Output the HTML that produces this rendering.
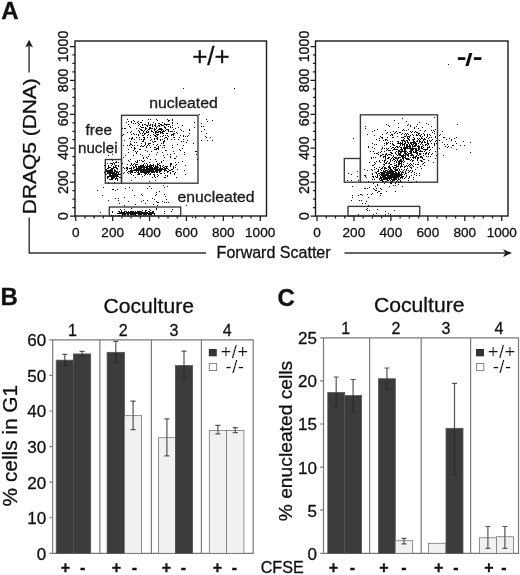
<!DOCTYPE html>
<html><head><meta charset="utf-8"><title>Figure</title><style>html,body{margin:0;padding:0;background:#fff}svg{display:block}</style></head><body>
<svg width="520" height="575" viewBox="0 0 520 575" font-family="'Liberation Sans', sans-serif" fill="#111"><style>text{stroke:#111;stroke-width:.3px}</style>
<rect width="520" height="575" fill="#fff"/>
<g font-weight="bold" font-size="24px"><text x="1.3" y="19.2">A</text><text x="0.5" y="305.2">B</text><text x="277.6" y="305.5">C</text></g>
<rect x="75" y="41" width="191.5" height="175" fill="none" stroke="#1a1a1a" stroke-width="1.4"/>
<path d="M75 216.00h-5M75 207.53h-2.6M75 199.05h-2.6M75 190.57h-2.6M75 182.10h-5M75 173.62h-2.6M75 165.15h-2.6M75 156.68h-2.6M75 148.20h-5M75 139.73h-2.6M75 131.25h-2.6M75 122.78h-2.6M75 114.30h-5M75 105.83h-2.6M75 97.35h-2.6M75 88.88h-2.6M75 80.40h-5M75 71.93h-2.6M75 63.45h-2.6M75 54.97h-2.6M75 46.50h-5M75.75 216v5M84.97 216v2.6M94.20 216v2.6M103.42 216v2.6M112.65 216v5M121.88 216v2.6M131.10 216v2.6M140.32 216v2.6M149.55 216v5M158.77 216v2.6M168.00 216v2.6M177.22 216v2.6M186.45 216v5M195.68 216v2.6M204.90 216v2.6M214.12 216v2.6M223.35 216v5M232.57 216v2.6M241.80 216v2.6M251.03 216v2.6M260.25 216v5" stroke="#1a1a1a" stroke-width="1.25" fill="none"/>
<g font-size="13.6px" text-anchor="middle">
<text x="75.8" y="236.7">0</text>
<text transform="translate(68,216.0) rotate(-90)" font-size="14.2px">0</text>
<text x="112.7" y="236.7">200</text>
<text transform="translate(68,182.1) rotate(-90)" font-size="14.2px">200</text>
<text x="149.6" y="236.7">400</text>
<text transform="translate(68,148.2) rotate(-90)" font-size="14.2px">400</text>
<text x="186.4" y="236.7">600</text>
<text transform="translate(68,114.3) rotate(-90)" font-size="14.2px">600</text>
<text x="223.3" y="236.7">800</text>
<text transform="translate(68,80.4) rotate(-90)" font-size="14.2px">800</text>
<text x="260.2" y="236.7">1000</text>
<text transform="translate(68,46.5) rotate(-90)" font-size="14.2px">1000</text>
</g>
<rect x="121.5" y="115.3" width="76.50" height="67.90" fill="none" stroke="#383838" stroke-width="1.35"/>
<rect x="105.3" y="159.5" width="16.20" height="23.70" fill="none" stroke="#383838" stroke-width="1.35"/>
<rect x="109.3" y="207" width="71.40" height="9.00" fill="none" stroke="#383838" stroke-width="1.35"/>
<path d="M112 174.5h1M112 171.5h1M110 172.5h1M116 174.5h1M116 173.5h1M114 173.5h1M108 176.5h1M114 174.5h1M108 166.5h1M110 171.5h1M114 172.5h1M114 170.5h1M111 179.5h1M114 177.5h1M111 170.5h1M112 172.5h1M115 173.5h1M111 169.5h1M111 177.5h1M110 173.5h1M114 167.5h1M113 178.5h1M107 171.5h1M112 169.5h1M115 176.5h1M117 174.5h1M113 167.5h1M111 168.5h1M110 170.5h1M116 165.5h1M108 173.5h1M117 175.5h1M107 163.5h1M109 176.5h1M113 174.5h1M114 175.5h1M108 177.5h1M115 175.5h1M107 170.5h1M115 165.5h1M112 176.5h1M109 179.5h1M113 177.5h1M111 171.5h1M110 176.5h1M117 171.5h1M109 172.5h1M117 168.5h1M116 168.5h1M110 175.5h1M116 176.5h1M113 175.5h1M119 174.5h1M113 176.5h1M118 162.5h1M109 173.5h1M111 175.5h1M120 174.5h1M111 172.5h1M105 171.5h1M115 178.5h1M108 171.5h1M112 175.5h1M116 162.5h1M116 167.5h1M115 167.5h1M112 173.5h1M112 178.5h1M116 171.5h1M121 168.5h1M115 171.5h1M108 167.5h1M114 169.5h1M110 167.5h1M116 175.5h1M117 169.5h1M113 168.5h1M115 179.5h1M110 179.5h1M116 172.5h1M107 178.5h1M112 170.5h1M116 178.5h1M117 172.5h1M111 176.5h1M113 173.5h1M106 171.5h1M107 176.5h1M117 179.5h1M107 168.5h1M107 177.5h1M111 173.5h1M118 173.5h1M114 176.5h1M112 168.5h1M108 170.5h1M115 170.5h1M110 169.5h1M108 172.5h1M109 174.5h1M106 174.5h1M111 165.5h1M106 169.5h1M114 171.5h1M115 174.5h1M114 164.5h1M118 166.5h1M114 182.5h1M118 172.5h1M113 172.5h1M120 177.5h1M115 162.5h1M118 174.5h1M117 180.5h1M109 170.5h1M119 177.5h1M109 167.5h1M118 176.5h1M110 174.5h1M106 170.5h1M109 171.5h1M112 164.5h1M115 166.5h1M104 172.5h1M108 155.5h1M108 182.5h1M111 163.5h1M109 175.5h1M121 178.5h1M118 165.5h1M112 177.5h1M112 179.5h1M112 189.5h1M119 171.5h1M113 189.5h1M111 178.5h1M107 173.5h1M117 176.5h1M108 168.5h1M113 162.5h1M111 159.5h1M112 163.5h1M112 160.5h1M117 178.5h1M116 161.5h1M104 165.5h1M110 163.5h1M116 177.5h1M121 180.5h1M108 165.5h1M107 172.5h1M112 154.5h1M105 173.5h1M114 163.5h1M113 166.5h1M145 169.5h1M155 169.5h1M139 166.5h1M143 167.5h1M135 169.5h1M142 169.5h1M153 168.5h1M173 168.5h1M159 169.5h1M159 163.5h1M139 169.5h1M154 174.5h1M151 172.5h1M155 171.5h1M153 166.5h1M160 166.5h1M150 174.5h1M160 169.5h1M138 169.5h1M153 170.5h1M139 173.5h1M165 169.5h1M150 168.5h1M163 167.5h1M154 168.5h1M139 170.5h1M162 169.5h1M140 171.5h1M146 170.5h1M164 171.5h1M141 174.5h1M147 171.5h1M140 169.5h1M128 173.5h1M162 166.5h1M130 165.5h1M160 168.5h1M146 168.5h1M146 166.5h1M147 165.5h1M152 168.5h1M137 169.5h1M142 172.5h1M142 167.5h1M137 168.5h1M150 170.5h1M153 174.5h1M141 169.5h1M149 170.5h1M144 170.5h1M148 171.5h1M126 167.5h1M147 166.5h1M136 170.5h1M140 170.5h1M155 170.5h1M153 169.5h1M131 169.5h1M146 171.5h1M137 170.5h1M167 168.5h1M149 168.5h1M164 170.5h1M157 167.5h1M147 169.5h1M127 172.5h1M157 165.5h1M155 168.5h1M152 170.5h1M131 168.5h1M136 166.5h1M134 170.5h1M166 170.5h1M141 167.5h1M150 169.5h1M133 168.5h1M141 170.5h1M146 169.5h1M143 171.5h1M162 168.5h1M156 167.5h1M164 168.5h1M135 164.5h1M141 171.5h1M144 167.5h1M152 165.5h1M156 168.5h1M150 167.5h1M150 173.5h1M139 174.5h1M149 171.5h1M133 164.5h1M154 171.5h1M154 175.5h1M149 169.5h1M157 170.5h1M165 166.5h1M143 161.5h1M157 174.5h1M147 168.5h1M145 171.5h1M134 172.5h1M152 167.5h1M159 170.5h1M130 173.5h1M151 171.5h1M130 171.5h1M151 169.5h1M147 164.5h1M142 170.5h1M146 172.5h1M143 170.5h1M160 167.5h1M173 167.5h1M135 170.5h1M153 165.5h1M155 165.5h1M139 168.5h1M148 168.5h1M153 172.5h1M147 170.5h1M161 169.5h1M133 175.5h1M171 164.5h1M158 170.5h1M144 166.5h1M135 166.5h1M144 168.5h1M146 167.5h1M160 173.5h1M138 168.5h1M152 169.5h1M127 169.5h1M160 165.5h1M156 169.5h1M161 168.5h1M157 168.5h1M155 167.5h1M146 173.5h1M134 167.5h1M147 172.5h1M143 168.5h1M157 169.5h1M151 166.5h1M136 171.5h1M156 172.5h1M137 174.5h1M171 163.5h1M171 169.5h1M129 171.5h1M128 171.5h1M132 165.5h1M160 171.5h1M138 171.5h1M157 163.5h1M175 167.5h1M143 169.5h1M149 167.5h1M136 169.5h1M143 164.5h1M161 170.5h1M136 167.5h1M140 167.5h1M133 170.5h1M149 165.5h1M144 169.5h1M145 165.5h1M170 163.5h1M158 175.5h1M153 164.5h1M156 170.5h1M147 167.5h1M154 169.5h1M161 173.5h1M137 164.5h1M157 171.5h1M127 167.5h1M174 173.5h1M139 167.5h1M135 172.5h1M151 167.5h1M127 164.5h1M133 167.5h1M138 167.5h1M124 168.5h1M149 172.5h1M141 168.5h1M164 173.5h1M163 169.5h1M164 167.5h1M147 174.5h1M160 170.5h1M165 170.5h1M152 172.5h1M144 171.5h1M169 170.5h1M151 165.5h1M168 169.5h1M148 170.5h1M138 172.5h1M140 165.5h1M145 167.5h1M136 168.5h1M150 166.5h1M145 172.5h1M148 169.5h1M146 163.5h1M154 167.5h1M149 174.5h1M131 163.5h1M126 170.5h1M131 170.5h1M168 171.5h1M167 172.5h1M141 166.5h1M141 165.5h1M157 164.5h1M167 171.5h1M170 166.5h1M159 165.5h1M133 166.5h1M142 171.5h1M143 172.5h1M156 166.5h1M158 169.5h1M130 170.5h1M137 172.5h1M140 168.5h1M149 162.5h1M152 171.5h1M145 174.5h1M145 170.5h1M143 166.5h1M159 171.5h1M138 170.5h1M151 168.5h1M158 167.5h1M130 172.5h1M129 168.5h1M159 172.5h1M138 166.5h1M153 171.5h1M149 166.5h1M156 171.5h1M150 171.5h1M151 170.5h1M165 168.5h1M170 172.5h1M166 168.5h1M131 171.5h1M142 166.5h1M132 171.5h1M131 167.5h1M150 165.5h1M157 166.5h1M141 172.5h1M136 164.5h1M154 172.5h1M157 172.5h1M159 168.5h1M130 168.5h1M124 172.5h1M170 173.5h1M148 173.5h1M131 172.5h1M154 176.5h1M166 167.5h1M155 177.5h1M167 175.5h1M132 170.5h1M155 180.5h1M138 174.5h1M161 161.5h1M172 169.5h1M148 172.5h1M132 172.5h1M143 165.5h1M175 165.5h1M175 172.5h1M170 165.5h1M167 176.5h1M184 170.5h1M152 177.5h1M170 164.5h1M165 177.5h1M131 164.5h1M135 161.5h1M156 161.5h1M157 176.5h1M127 168.5h1M123 173.5h1M134 169.5h1M123 167.5h1M177 169.5h1M136 162.5h1M140 172.5h1M137 160.5h1M131 180.5h1M135 177.5h1M126 168.5h1M155 166.5h1M144 172.5h1M144 175.5h1M134 163.5h1M172 171.5h1M163 165.5h1M167 166.5h1M137 162.5h1M166 166.5h1M135 165.5h1M144 163.5h1M142 165.5h1M155 159.5h1M161 162.5h1M145 173.5h1M144 173.5h1M129 161.5h1M164 169.5h1M122 163.5h1M176 177.5h1M174 174.5h1M148 166.5h1M173 171.5h1M144 160.5h1M149 181.5h1M170 170.5h1M142 176.5h1M164 177.5h1M138 173.5h1M165 175.5h1M140 166.5h1M131 174.5h1M173 166.5h1M185 174.5h1M142 161.5h1M148 134.5h1M183 131.5h1M147 125.5h1M131 131.5h1M142 133.5h1M133 120.5h1M161 125.5h1M168 130.5h1M141 130.5h1M169 120.5h1M183 135.5h1M168 120.5h1M147 126.5h1M172 123.5h1M154 130.5h1M133 123.5h1M164 138.5h1M166 129.5h1M141 122.5h1M148 129.5h1M156 138.5h1M161 124.5h1M179 137.5h1M158 125.5h1M131 121.5h1M170 126.5h1M139 128.5h1M160 133.5h1M166 137.5h1M145 133.5h1M143 131.5h1M160 131.5h1M171 131.5h1M173 135.5h1M159 126.5h1M146 125.5h1M154 129.5h1M168 126.5h1M160 124.5h1M180 129.5h1M172 119.5h1M157 130.5h1M160 132.5h1M161 130.5h1M131 122.5h1M124 128.5h1M161 128.5h1M183 141.5h1M156 136.5h1M150 124.5h1M149 129.5h1M158 131.5h1M157 134.5h1M182 125.5h1M159 128.5h1M162 122.5h1M164 131.5h1M152 124.5h1M137 122.5h1M167 133.5h1M157 132.5h1M149 128.5h1M158 132.5h1M156 128.5h1M155 125.5h1M188 135.5h1M163 142.5h1M177 123.5h1M167 135.5h1M183 139.5h1M168 124.5h1M145 129.5h1M164 124.5h1M152 126.5h1M153 122.5h1M174 139.5h1M156 134.5h1M163 133.5h1M164 126.5h1M165 135.5h1M144 138.5h1M186 142.5h1M185 136.5h1M152 125.5h1M146 128.5h1M129 138.5h1M189 133.5h1M166 133.5h1M155 124.5h1M159 129.5h1M158 129.5h1M165 124.5h1M163 135.5h1M165 128.5h1M150 127.5h1M167 138.5h1M162 131.5h1M144 124.5h1M156 132.5h1M140 122.5h1M164 123.5h1M159 131.5h1M155 123.5h1M156 127.5h1M162 125.5h1M172 122.5h1M155 129.5h1M170 127.5h1M165 127.5h1M167 139.5h1M151 131.5h1M144 133.5h1M174 131.5h1M141 129.5h1M173 137.5h1M168 121.5h1M147 135.5h1M140 133.5h1M183 136.5h1M173 129.5h1M140 126.5h1M154 128.5h1M167 129.5h1M157 139.5h1M163 130.5h1M154 125.5h1M176 132.5h1M142 124.5h1M155 126.5h1M172 125.5h1M141 127.5h1M156 131.5h1M151 130.5h1M134 121.5h1M168 136.5h1M157 126.5h1M172 120.5h1M146 131.5h1M166 125.5h1M131 134.5h1M159 125.5h1M158 134.5h1M167 119.5h1M173 133.5h1M189 130.5h1M157 135.5h1M148 124.5h1M152 128.5h1M142 130.5h1M165 130.5h1M181 130.5h1M175 128.5h1M160 128.5h1M150 125.5h1M126 122.5h1M149 125.5h1M142 127.5h1M168 129.5h1M150 135.5h1M171 135.5h1M155 135.5h1M149 127.5h1M162 132.5h1M153 134.5h1M155 133.5h1M172 134.5h1M167 124.5h1M139 124.5h1M140 129.5h1M145 124.5h1M153 132.5h1M160 136.5h1M143 132.5h1M170 131.5h1M164 127.5h1M142 125.5h1M143 158.5h1M153 144.5h1M161 132.5h1M164 145.5h1M127 145.5h1M158 146.5h1M174 137.5h1M158 149.5h1M136 152.5h1M128 124.5h1M148 122.5h1M151 128.5h1M157 138.5h1M151 139.5h1M136 134.5h1M156 119.5h1M139 132.5h1M134 142.5h1M148 131.5h1M135 148.5h1M140 146.5h1M157 120.5h1M134 139.5h1M155 149.5h1M162 152.5h1M144 137.5h1M162 136.5h1M166 124.5h1M160 139.5h1M155 141.5h1M134 134.5h1M132 137.5h1M144 130.5h1M137 151.5h1M128 160.5h1M162 147.5h1M134 147.5h1M122 128.5h1M130 144.5h1M164 141.5h1M123 134.5h1M156 149.5h1M178 139.5h1M143 139.5h1M168 131.5h1M162 133.5h1M157 148.5h1M132 138.5h1M154 147.5h1M136 128.5h1M147 137.5h1M128 149.5h1M142 155.5h1M163 141.5h1M161 129.5h1M131 139.5h1M148 156.5h1M156 145.5h1M157 144.5h1M122 135.5h1M129 126.5h1M152 141.5h1M152 131.5h1M147 130.5h1M156 148.5h1M176 156.5h1M138 134.5h1M136 142.5h1M180 150.5h1M131 144.5h1M150 143.5h1M177 133.5h1M137 161.5h1M155 132.5h1M151 151.5h1M148 132.5h1M139 160.5h1M124 140.5h1M150 147.5h1M144 145.5h1M162 139.5h1M143 137.5h1M136 137.5h1M145 142.5h1M170 156.5h1M143 146.5h1M154 149.5h1M163 155.5h1M160 145.5h1M154 135.5h1M123 145.5h1M136 153.5h1M123 157.5h1M139 139.5h1M142 141.5h1M147 132.5h1M142 146.5h1M142 135.5h1M155 136.5h1M131 138.5h1M147 158.5h1M134 149.5h1M138 135.5h1M145 143.5h1M163 160.5h1M140 154.5h1M165 150.5h1M139 149.5h1M148 144.5h1M146 147.5h1M167 154.5h1M147 151.5h1M172 131.5h1M172 127.5h1M158 147.5h1M172 145.5h1M131 147.5h1M146 132.5h1M143 135.5h1M175 158.5h1M148 123.5h1M154 141.5h1M155 147.5h1M145 150.5h1M163 143.5h1M144 134.5h1M160 129.5h1M129 145.5h1M150 140.5h1M163 125.5h1M149 143.5h1M162 129.5h1M161 143.5h1M170 154.5h1M158 164.5h1M150 119.5h1M149 145.5h1M165 137.5h1M171 134.5h1M148 119.5h1M139 131.5h1M172 147.5h1M134 145.5h1M150 137.5h1M142 120.5h1M149 154.5h1M171 139.5h1M139 137.5h1M163 145.5h1M141 143.5h1M147 145.5h1M166 150.5h1M138 130.5h1M154 139.5h1M180 135.5h1M141 160.5h1M132 145.5h1M143 157.5h1M156 154.5h1M133 150.5h1M160 140.5h1M170 157.5h1M130 132.5h1M145 128.5h1M127 132.5h1M135 151.5h1M143 141.5h1M145 127.5h1M127 119.5h1M184 154.5h1M128 152.5h1M183 145.5h1M130 141.5h1M179 149.5h1M163 131.5h1M138 125.5h1M125 155.5h1M174 133.5h1M134 148.5h1M175 162.5h1M133 155.5h1M174 153.5h1M143 127.5h1M173 134.5h1M145 144.5h1M146 157.5h1M138 121.5h1M158 148.5h1M173 151.5h1M178 162.5h1M153 142.5h1M133 133.5h1M158 123.5h1M150 164.5h1M128 121.5h1M150 128.5h1M174 158.5h1M140 149.5h1M154 138.5h1M144 139.5h1M164 157.5h1M178 127.5h1M141 139.5h1M135 123.5h1M143 140.5h1M182 161.5h1M176 164.5h1M182 148.5h1M164 147.5h1M141 145.5h1M181 141.5h1M125 128.5h1M164 140.5h1M146 146.5h1M148 143.5h1M157 137.5h1M130 127.5h1M177 144.5h1M130 159.5h1M138 123.5h1M155 131.5h1M137 145.5h1M130 143.5h1M159 123.5h1M150 159.5h1M157 152.5h1M169 124.5h1M197 159.5h1M185 165.5h1M189 129.5h1M196 151.5h1M194 127.5h1M194 122.5h1M187 140.5h1M184 152.5h1M187 136.5h1M193 143.5h1M196 154.5h1M195 151.5h1M212 120.5h1M207 140.5h1M199 114.5h1M206 133.5h1M203 126.5h1M201 126.5h1M212 140.5h1M201 123.5h1M205 136.5h1M206 119.5h1M204 129.5h1M210 137.5h1M206 137.5h1M201 140.5h1M201 131.5h1M207 121.5h1M143 213.5h1M119 211.5h1M131 213.5h1M150 213.5h1M147 213.5h1M148 213.5h1M143 212.5h1M125 213.5h1M149 211.5h1M140 214.5h1M122 212.5h1M140 213.5h1M132 213.5h1M135 212.5h1M131 212.5h1M119 212.5h1M120 212.5h1M135 213.5h1M124 213.5h1M142 213.5h1M137 213.5h1M128 212.5h1M152 212.5h1M154 214.5h1M146 213.5h1M141 211.5h1M132 212.5h1M150 214.5h1M146 212.5h1M145 211.5h1M138 212.5h1M130 214.5h1M128 213.5h1M119 213.5h1M139 212.5h1M121 213.5h1M130 212.5h1M138 214.5h1M139 214.5h1M122 213.5h1M149 212.5h1M121 211.5h1M129 213.5h1M144 213.5h1M126 213.5h1M126 212.5h1M145 214.5h1M124 212.5h1M126 211.5h1M141 212.5h1M151 213.5h1M145 213.5h1M142 212.5h1M121 212.5h1M141 213.5h1M131 211.5h1M135 215.5h1M139 213.5h1M146 214.5h1M134 213.5h1M140 212.5h1M128 214.5h1M130 211.5h1M129 212.5h1M136 212.5h1M132 211.5h1M154 213.5h1M122 214.5h1M120 213.5h1M138 213.5h1M132 214.5h1M151 214.5h1M125 214.5h1M127 213.5h1M153 211.5h1M147 212.5h1M123 213.5h1M133 213.5h1M133 214.5h1M141 214.5h1M124 214.5h1M128 211.5h1M136 213.5h1M149 213.5h1M153 213.5h1M145 212.5h1M131 214.5h1M150 212.5h1M143 214.5h1M130 213.5h1M123 212.5h1M127 214.5h1M138 211.5h1M153 212.5h1M119 215.5h1M127 212.5h1M144 212.5h1M151 212.5h1M137 211.5h1M148 214.5h1M134 212.5h1M137 212.5h1M133 212.5h1M125 211.5h1M140 211.5h1M118 213.5h1M139 211.5h1M152 213.5h1M164 213.5h1M148 211.5h1M135 214.5h1M117 213.5h1M142 210.5h1M136 215.5h1M145 210.5h1M164 211.5h1M134 214.5h1M118 211.5h1M156 208.5h1M133 211.5h1M123 214.5h1M131 208.5h1M149 209.5h1M149 214.5h1M152 211.5h1M112 212.5h1M135 211.5h1M156 209.5h1M122 215.5h1M171 211.5h1M120 209.5h1M172 209.5h1M124 211.5h1M124 209.5h1M111 215.5h1M144 214.5h1M121 210.5h1M112 211.5h1M146 210.5h1M150 210.5h1M141 201.5h1M149 186.5h1M118 198.5h1M167 186.5h1M143 200.5h1M156 192.5h1M155 195.5h1M163 185.5h1M164 194.5h1M129 187.5h1M118 200.5h1M147 188.5h1M125 188.5h1M115 190.5h1M124 205.5h1M168 202.5h1M134 195.5h1M153 204.5h1M152 198.5h1M115 198.5h1M158 202.5h1M108 200.5h1M166 199.5h1M151 188.5h1M157 205.5h1M162 201.5h1M157 202.5h1M141 194.5h1M156 201.5h1M159 191.5h1M165 196.5h1M164 187.5h1M166 202.5h1M119 203.5h1M117 189.5h1M132 190.5h1M135 204.5h1M147 200.5h1M128 201.5h1M154 199.5h1M164 202.5h1M145 203.5h1M124 197.5h1M102 195.5h1M103 187.5h1M156 194.5h1M142 195.5h1M234 88.5h1M183 88.5h1M186 205.5h1M192 217.5h1M97 190.5h1M100 212.5h1" stroke="#111" stroke-width="1" fill="none"/>
<text x="192.2" y="65.2" font-size="26px">+/+</text>
<rect x="315.5" y="41" width="192.5" height="175" fill="none" stroke="#1a1a1a" stroke-width="1.4"/>
<path d="M315.5 216.00h-5M315.5 207.53h-2.6M315.5 199.05h-2.6M315.5 190.57h-2.6M315.5 182.10h-5M315.5 173.62h-2.6M315.5 165.15h-2.6M315.5 156.68h-2.6M315.5 148.20h-5M315.5 139.73h-2.6M315.5 131.25h-2.6M315.5 122.78h-2.6M315.5 114.30h-5M315.5 105.83h-2.6M315.5 97.35h-2.6M315.5 88.88h-2.6M315.5 80.40h-5M315.5 71.93h-2.6M315.5 63.45h-2.6M315.5 54.97h-2.6M315.5 46.50h-5M317.00 216v5M326.24 216v2.6M335.48 216v2.6M344.71 216v2.6M353.95 216v5M363.19 216v2.6M372.43 216v2.6M381.66 216v2.6M390.90 216v5M400.14 216v2.6M409.38 216v2.6M418.61 216v2.6M427.85 216v5M437.09 216v2.6M446.33 216v2.6M455.56 216v2.6M464.80 216v5M474.04 216v2.6M483.27 216v2.6M492.51 216v2.6M501.75 216v5" stroke="#1a1a1a" stroke-width="1.25" fill="none"/>
<g font-size="13.6px" text-anchor="middle">
<text x="317.0" y="236.7">0</text>
<text transform="translate(308.5,216.0) rotate(-90)" font-size="14.2px">0</text>
<text x="353.9" y="236.7">200</text>
<text transform="translate(308.5,182.1) rotate(-90)" font-size="14.2px">200</text>
<text x="390.9" y="236.7">400</text>
<text transform="translate(308.5,148.2) rotate(-90)" font-size="14.2px">400</text>
<text x="427.9" y="236.7">600</text>
<text transform="translate(308.5,114.3) rotate(-90)" font-size="14.2px">600</text>
<text x="464.8" y="236.7">800</text>
<text transform="translate(308.5,80.4) rotate(-90)" font-size="14.2px">800</text>
<text x="501.8" y="236.7">1000</text>
<text transform="translate(308.5,46.5) rotate(-90)" font-size="14.2px">1000</text>
</g>
<rect x="360.4" y="114.8" width="77.10" height="67.40" fill="none" stroke="#383838" stroke-width="1.35"/>
<rect x="344.3" y="158.5" width="16.10" height="23.70" fill="none" stroke="#383838" stroke-width="1.35"/>
<rect x="348" y="206.4" width="71.70" height="9.60" fill="none" stroke="#383838" stroke-width="1.35"/>
<path d="M388 177.5h1M384 179.5h1M387 174.5h1M394 176.5h1M388 173.5h1M385 172.5h1M396 178.5h1M400 177.5h1M392 177.5h1M395 175.5h1M392 180.5h1M381 172.5h1M385 177.5h1M396 175.5h1M394 175.5h1M392 174.5h1M390 175.5h1M396 181.5h1M380 177.5h1M390 178.5h1M396 177.5h1M394 173.5h1M381 179.5h1M396 173.5h1M397 177.5h1M377 177.5h1M385 178.5h1M386 174.5h1M382 175.5h1M395 174.5h1M380 180.5h1M387 173.5h1M381 177.5h1M397 173.5h1M389 177.5h1M401 174.5h1M395 178.5h1M388 175.5h1M383 178.5h1M390 173.5h1M384 175.5h1M398 175.5h1M393 172.5h1M388 172.5h1M381 173.5h1M391 173.5h1M394 178.5h1M390 174.5h1M389 176.5h1M388 178.5h1M404 174.5h1M393 175.5h1M387 178.5h1M393 177.5h1M386 177.5h1M393 180.5h1M384 172.5h1M382 174.5h1M382 179.5h1M386 175.5h1M393 173.5h1M382 180.5h1M390 177.5h1M390 172.5h1M381 178.5h1M394 177.5h1M381 170.5h1M384 173.5h1M398 174.5h1M387 177.5h1M392 173.5h1M394 180.5h1M383 175.5h1M384 171.5h1M395 176.5h1M379 175.5h1M386 173.5h1M384 177.5h1M388 180.5h1M393 171.5h1M399 172.5h1M390 171.5h1M383 171.5h1M390 176.5h1M382 173.5h1M383 170.5h1M389 175.5h1M393 174.5h1M396 176.5h1M381 174.5h1M393 176.5h1M399 176.5h1M388 176.5h1M385 174.5h1M400 175.5h1M392 175.5h1M387 176.5h1M382 176.5h1M393 179.5h1M391 177.5h1M399 175.5h1M402 174.5h1M401 176.5h1M389 172.5h1M383 179.5h1M392 176.5h1M395 179.5h1M373 177.5h1M398 173.5h1M380 176.5h1M384 174.5h1M402 176.5h1M387 170.5h1M389 173.5h1M394 171.5h1M391 176.5h1M392 179.5h1M395 172.5h1M395 173.5h1M382 172.5h1M394 174.5h1M383 176.5h1M385 176.5h1M386 172.5h1M391 179.5h1M398 179.5h1M391 182.5h1M391 178.5h1M392 171.5h1M391 181.5h1M397 174.5h1M394 179.5h1M393 178.5h1M398 178.5h1M401 175.5h1M380 174.5h1M388 174.5h1M397 175.5h1M389 171.5h1M391 174.5h1M378 171.5h1M387 172.5h1M399 173.5h1M385 171.5h1M382 177.5h1M395 177.5h1M399 169.5h1M386 179.5h1M392 170.5h1M387 179.5h1M377 174.5h1M380 178.5h1M385 170.5h1M387 180.5h1M386 168.5h1M398 176.5h1M383 174.5h1M383 173.5h1M389 179.5h1M391 175.5h1M396 172.5h1M400 180.5h1M384 178.5h1M396 179.5h1M387 175.5h1M390 180.5h1M389 178.5h1M396 174.5h1M400 171.5h1M399 174.5h1M379 173.5h1M383 177.5h1M403 176.5h1M377 175.5h1M373 176.5h1M392 181.5h1M402 177.5h1M414 172.5h1M404 167.5h1M384 169.5h1M384 168.5h1M399 164.5h1M413 179.5h1M389 170.5h1M376 173.5h1M408 178.5h1M383 166.5h1M384 167.5h1M388 171.5h1M411 172.5h1M368 181.5h1M398 172.5h1M391 169.5h1M382 167.5h1M405 177.5h1M405 172.5h1M381 180.5h1M373 183.5h1M394 165.5h1M382 168.5h1M384 161.5h1M398 182.5h1M398 168.5h1M405 166.5h1M406 175.5h1M391 170.5h1M400 181.5h1M400 174.5h1M390 182.5h1M411 182.5h1M385 179.5h1M380 169.5h1M390 183.5h1M405 171.5h1M388 169.5h1M390 170.5h1M398 165.5h1M404 178.5h1M398 181.5h1M398 166.5h1M385 168.5h1M397 176.5h1M387 171.5h1M375 172.5h1M409 176.5h1M381 168.5h1M374 167.5h1M395 165.5h1M386 162.5h1M395 170.5h1M385 181.5h1M406 176.5h1M412 170.5h1M385 175.5h1M402 178.5h1M389 168.5h1M388 166.5h1M415 169.5h1M377 176.5h1M416 173.5h1M400 178.5h1M409 177.5h1M394 169.5h1M401 177.5h1M416 181.5h1M399 179.5h1M395 171.5h1M401 182.5h1M398 177.5h1M411 167.5h1M365 176.5h1M375 176.5h1M391 171.5h1M402 186.5h1M408 180.5h1M398 171.5h1M374 179.5h1M401 169.5h1M411 175.5h1M401 173.5h1M404 166.5h1M395 185.5h1M379 178.5h1M406 169.5h1M393 185.5h1M403 160.5h1M389 166.5h1M386 170.5h1M396 170.5h1M409 171.5h1M385 167.5h1M413 177.5h1M380 172.5h1M382 181.5h1M396 164.5h1M381 175.5h1M401 162.5h1M386 181.5h1M402 171.5h1M384 183.5h1M374 169.5h1M372 179.5h1M408 172.5h1M409 182.5h1M376 177.5h1M372 173.5h1M395 182.5h1M418 164.5h1M386 163.5h1M383 181.5h1M397 180.5h1M395 153.5h1M428 160.5h1M425 144.5h1M413 143.5h1M423 139.5h1M412 131.5h1M395 168.5h1M412 150.5h1M387 155.5h1M433 130.5h1M386 154.5h1M405 148.5h1M398 141.5h1M398 158.5h1M410 155.5h1M399 157.5h1M406 151.5h1M421 146.5h1M407 136.5h1M412 155.5h1M404 150.5h1M392 143.5h1M415 158.5h1M408 136.5h1M407 137.5h1M408 165.5h1M414 146.5h1M422 142.5h1M415 149.5h1M416 135.5h1M419 154.5h1M386 133.5h1M401 164.5h1M411 154.5h1M417 154.5h1M404 146.5h1M415 152.5h1M417 150.5h1M406 159.5h1M416 156.5h1M384 165.5h1M385 158.5h1M404 152.5h1M406 147.5h1M413 151.5h1M402 130.5h1M403 155.5h1M402 155.5h1M407 142.5h1M424 159.5h1M410 148.5h1M421 134.5h1M402 161.5h1M421 142.5h1M403 154.5h1M396 149.5h1M408 129.5h1M417 153.5h1M423 133.5h1M397 146.5h1M397 170.5h1M400 149.5h1M413 152.5h1M427 135.5h1M421 147.5h1M398 153.5h1M396 166.5h1M403 159.5h1M425 139.5h1M401 152.5h1M400 159.5h1M413 142.5h1M404 157.5h1M395 167.5h1M402 149.5h1M401 165.5h1M420 157.5h1M418 147.5h1M430 149.5h1M416 152.5h1M419 149.5h1M409 136.5h1M434 131.5h1M387 149.5h1M432 153.5h1M404 153.5h1M411 132.5h1M407 152.5h1M424 135.5h1M386 142.5h1M415 148.5h1M413 149.5h1M407 138.5h1M416 150.5h1M417 157.5h1M397 133.5h1M391 172.5h1M401 155.5h1M411 155.5h1M409 144.5h1M414 152.5h1M400 163.5h1M424 149.5h1M410 147.5h1M393 159.5h1M400 147.5h1M422 138.5h1M405 157.5h1M431 137.5h1M423 140.5h1M415 151.5h1M398 161.5h1M431 143.5h1M414 138.5h1M397 159.5h1M395 147.5h1M388 167.5h1M435 136.5h1M405 155.5h1M416 132.5h1M428 143.5h1M403 164.5h1M410 160.5h1M423 159.5h1M402 151.5h1M415 146.5h1M428 138.5h1M422 157.5h1M390 146.5h1M401 147.5h1M412 144.5h1M410 153.5h1M419 140.5h1M410 142.5h1M409 137.5h1M421 151.5h1M410 143.5h1M406 144.5h1M394 167.5h1M398 157.5h1M418 133.5h1M390 159.5h1M389 167.5h1M411 144.5h1M409 146.5h1M404 144.5h1M411 164.5h1M423 147.5h1M429 152.5h1M413 146.5h1M399 154.5h1M397 169.5h1M413 144.5h1M408 154.5h1M422 141.5h1M418 143.5h1M424 138.5h1M430 141.5h1M402 144.5h1M418 139.5h1M431 154.5h1M417 135.5h1M411 142.5h1M391 158.5h1M435 137.5h1M398 154.5h1M410 157.5h1M393 149.5h1M405 147.5h1M419 141.5h1M420 154.5h1M422 144.5h1M417 152.5h1M401 143.5h1M427 140.5h1M402 143.5h1M422 136.5h1M401 160.5h1M402 172.5h1M412 171.5h1M412 149.5h1M404 149.5h1M405 150.5h1M419 135.5h1M401 134.5h1M411 148.5h1M422 148.5h1M420 144.5h1M391 164.5h1M394 145.5h1M420 160.5h1M409 166.5h1M401 151.5h1M410 146.5h1M426 123.5h1M425 153.5h1M400 161.5h1M426 144.5h1M407 145.5h1M409 139.5h1M396 167.5h1M411 153.5h1M418 155.5h1M398 147.5h1M415 142.5h1M403 156.5h1M412 142.5h1M401 137.5h1M399 155.5h1M424 139.5h1M420 150.5h1M424 151.5h1M385 154.5h1M408 156.5h1M426 137.5h1M405 152.5h1M416 148.5h1M420 136.5h1M420 156.5h1M423 149.5h1M408 153.5h1M410 135.5h1M405 142.5h1M408 146.5h1M412 148.5h1M413 156.5h1M398 127.5h1M407 155.5h1M407 144.5h1M397 160.5h1M436 140.5h1M422 151.5h1M404 151.5h1M414 141.5h1M429 137.5h1M405 151.5h1M404 138.5h1M384 145.5h1M428 147.5h1M409 151.5h1M396 146.5h1M399 162.5h1M406 173.5h1M410 149.5h1M426 152.5h1M421 137.5h1M410 145.5h1M399 161.5h1M414 148.5h1M397 166.5h1M427 136.5h1M427 142.5h1M424 141.5h1M415 157.5h1M402 158.5h1M404 147.5h1M409 159.5h1M400 152.5h1M402 150.5h1M413 135.5h1M411 168.5h1M400 151.5h1M408 158.5h1M406 135.5h1M393 155.5h1M414 157.5h1M405 156.5h1M399 163.5h1M413 163.5h1M402 141.5h1M400 142.5h1M410 152.5h1M424 142.5h1M414 142.5h1M416 134.5h1M405 133.5h1M424 131.5h1M400 155.5h1M417 141.5h1M425 130.5h1M405 153.5h1M413 140.5h1M428 156.5h1M422 146.5h1M410 150.5h1M398 162.5h1M403 162.5h1M406 146.5h1M427 145.5h1M418 162.5h1M399 146.5h1M410 151.5h1M404 161.5h1M400 145.5h1M416 151.5h1M407 158.5h1M435 158.5h1M412 165.5h1M412 160.5h1M417 132.5h1M409 164.5h1M379 161.5h1M421 148.5h1M413 160.5h1M415 131.5h1M401 149.5h1M410 163.5h1M379 167.5h1M411 149.5h1M403 157.5h1M407 140.5h1M418 146.5h1M398 152.5h1M396 165.5h1M417 164.5h1M400 144.5h1M421 143.5h1M423 153.5h1M401 150.5h1M401 166.5h1M405 158.5h1M406 153.5h1M403 140.5h1M400 154.5h1M419 147.5h1M427 141.5h1M405 141.5h1M418 157.5h1M408 143.5h1M407 146.5h1M405 149.5h1M396 154.5h1M397 143.5h1M404 148.5h1M392 160.5h1M394 148.5h1M403 158.5h1M431 140.5h1M409 148.5h1M415 143.5h1M417 138.5h1M434 144.5h1M406 140.5h1M416 143.5h1M419 142.5h1M407 147.5h1M416 153.5h1M407 168.5h1M429 134.5h1M423 145.5h1M397 149.5h1M415 144.5h1M407 141.5h1M414 139.5h1M420 166.5h1M407 163.5h1M412 154.5h1M429 146.5h1M410 131.5h1M406 154.5h1M401 163.5h1M405 143.5h1M392 153.5h1M417 160.5h1M418 150.5h1M403 144.5h1M401 159.5h1M413 157.5h1M410 165.5h1M413 141.5h1M424 134.5h1M402 137.5h1M396 158.5h1M418 145.5h1M420 151.5h1M415 164.5h1M399 150.5h1M390 154.5h1M436 143.5h1M413 137.5h1M397 147.5h1M425 149.5h1M409 145.5h1M394 149.5h1M428 153.5h1M411 152.5h1M403 151.5h1M407 159.5h1M398 163.5h1M411 150.5h1M405 136.5h1M419 146.5h1M429 147.5h1M389 165.5h1M404 155.5h1M435 151.5h1M399 151.5h1M394 159.5h1M416 155.5h1M420 141.5h1M404 141.5h1M397 155.5h1M411 159.5h1M414 145.5h1M413 148.5h1M400 143.5h1M407 166.5h1M386 139.5h1M418 149.5h1M390 168.5h1M395 158.5h1M393 144.5h1M404 140.5h1M370 151.5h1M421 160.5h1M436 155.5h1M427 148.5h1M393 158.5h1M384 164.5h1M393 156.5h1M386 153.5h1M416 145.5h1M389 157.5h1M381 137.5h1M378 169.5h1M373 165.5h1M382 154.5h1M434 133.5h1M402 166.5h1M364 169.5h1M393 168.5h1M416 149.5h1M413 158.5h1M401 156.5h1M409 153.5h1M391 152.5h1M408 138.5h1M400 160.5h1M403 147.5h1M372 143.5h1M392 137.5h1M398 142.5h1M389 154.5h1M387 158.5h1M388 148.5h1M396 169.5h1M426 156.5h1M388 154.5h1M373 157.5h1M388 163.5h1M391 148.5h1M425 145.5h1M408 134.5h1M430 156.5h1M406 158.5h1M392 147.5h1M374 162.5h1M421 157.5h1M415 156.5h1M385 139.5h1M411 151.5h1M416 144.5h1M385 160.5h1M391 134.5h1M390 143.5h1M381 149.5h1M416 175.5h1M429 140.5h1M399 132.5h1M430 135.5h1M404 136.5h1M394 163.5h1M410 126.5h1M414 132.5h1M389 150.5h1M396 157.5h1M405 173.5h1M384 176.5h1M396 161.5h1M385 159.5h1M434 145.5h1M412 146.5h1M382 148.5h1M435 141.5h1M423 163.5h1M427 147.5h1M412 161.5h1M398 164.5h1M410 167.5h1M374 148.5h1M384 143.5h1M427 134.5h1M386 150.5h1M389 126.5h1M385 140.5h1M382 160.5h1M401 140.5h1M418 158.5h1M385 130.5h1M385 155.5h1M372 165.5h1M393 147.5h1M419 148.5h1M364 175.5h1M372 170.5h1M404 134.5h1M401 161.5h1M383 156.5h1M388 142.5h1M390 169.5h1M399 153.5h1M371 169.5h1M386 124.5h1M412 134.5h1M398 151.5h1M390 160.5h1M395 149.5h1M384 151.5h1M422 158.5h1M407 133.5h1M417 158.5h1M434 117.5h1M418 134.5h1M417 124.5h1M400 167.5h1M390 161.5h1M402 133.5h1M390 167.5h1M420 139.5h1M419 138.5h1M379 160.5h1M394 120.5h1M386 144.5h1M386 143.5h1M388 125.5h1M401 148.5h1M382 137.5h1M404 169.5h1M377 153.5h1M412 145.5h1M383 154.5h1M406 121.5h1M417 167.5h1M383 164.5h1M406 148.5h1M393 137.5h1M422 161.5h1M391 153.5h1M414 127.5h1M434 143.5h1M404 145.5h1M403 129.5h1M379 138.5h1M419 122.5h1M387 132.5h1M388 150.5h1M422 164.5h1M392 135.5h1M421 161.5h1M403 137.5h1M404 143.5h1M425 154.5h1M421 156.5h1M382 134.5h1M384 162.5h1M415 150.5h1M401 172.5h1M393 131.5h1M374 153.5h1M412 157.5h1M396 162.5h1M399 143.5h1M394 161.5h1M384 156.5h1M435 129.5h1M408 142.5h1M400 157.5h1M371 157.5h1M376 172.5h1M417 159.5h1M398 123.5h1M392 144.5h1M431 130.5h1M409 147.5h1M421 138.5h1M412 139.5h1M418 128.5h1M378 173.5h1M406 170.5h1M383 157.5h1M410 170.5h1M412 147.5h1M368 146.5h1M395 157.5h1M419 153.5h1M384 148.5h1M417 146.5h1M390 164.5h1M419 173.5h1M382 147.5h1M388 158.5h1M392 166.5h1M380 152.5h1M387 137.5h1M372 176.5h1M420 153.5h1M393 145.5h1M419 151.5h1M427 149.5h1M388 157.5h1M397 141.5h1M390 150.5h1M425 142.5h1M376 153.5h1M418 148.5h1M420 130.5h1M403 170.5h1M392 172.5h1M383 172.5h1M372 147.5h1M403 148.5h1M402 140.5h1M408 170.5h1M373 151.5h1M395 152.5h1M402 142.5h1M399 170.5h1M374 164.5h1M378 152.5h1M398 143.5h1M413 155.5h1M397 136.5h1M413 166.5h1M405 154.5h1M400 166.5h1M400 132.5h1M395 160.5h1M367 170.5h1M432 147.5h1M411 143.5h1M402 157.5h1M394 157.5h1M393 167.5h1M404 130.5h1M379 179.5h1M406 134.5h1M385 156.5h1M424 165.5h1M432 132.5h1M426 149.5h1M408 139.5h1M375 157.5h1M407 154.5h1M390 152.5h1M402 145.5h1M376 139.5h1M408 155.5h1M414 143.5h1M366 177.5h1M424 162.5h1M408 148.5h1M406 130.5h1M376 168.5h1M377 171.5h1M369 162.5h1M392 141.5h1M407 148.5h1M392 134.5h1M398 150.5h1M416 141.5h1M374 144.5h1M428 144.5h1M420 135.5h1M392 150.5h1M365 175.5h1M433 162.5h1M425 150.5h1M380 156.5h1M413 139.5h1M399 160.5h1M376 161.5h1M368 147.5h1M380 155.5h1M397 158.5h1M417 140.5h1M419 133.5h1M396 131.5h1M406 165.5h1M376 144.5h1M408 159.5h1M414 128.5h1M402 156.5h1M395 132.5h1M382 138.5h1M378 154.5h1M387 140.5h1M371 158.5h1M384 160.5h1M380 162.5h1M389 163.5h1M385 163.5h1M386 148.5h1M400 153.5h1M428 124.5h1M390 132.5h1M403 172.5h1M422 127.5h1M427 143.5h1M391 155.5h1M426 153.5h1M428 154.5h1M390 141.5h1M431 126.5h1M408 124.5h1M406 145.5h1M416 126.5h1M379 140.5h1M395 169.5h1M375 163.5h1M386 178.5h1M432 139.5h1M407 125.5h1M392 157.5h1M409 140.5h1M365 126.5h1M385 157.5h1M429 150.5h1M381 155.5h1M374 135.5h1M374 130.5h1M372 131.5h1M387 143.5h1M419 175.5h1M390 135.5h1M372 174.5h1M389 162.5h1M396 151.5h1M377 129.5h1M387 161.5h1M402 118.5h1M415 145.5h1M367 134.5h1M378 170.5h1M403 139.5h1M380 136.5h1M383 140.5h1M421 168.5h1M414 174.5h1M410 125.5h1M365 128.5h1M381 151.5h1M423 155.5h1M394 133.5h1M463 141.5h1M447 144.5h1M455 141.5h1M451 139.5h1M443 137.5h1M454 138.5h1M453 145.5h1M457 124.5h1M440 134.5h1M447 147.5h1M470 152.5h1M460 145.5h1M445 146.5h1M448 146.5h1M439 135.5h1M442 142.5h1M451 140.5h1M451 147.5h1M456 137.5h1M464 145.5h1M456 143.5h1M456 149.5h1M449 138.5h1M443 155.5h1M446 139.5h1M442 131.5h1M444 144.5h1M444 137.5h1M452 145.5h1M439 148.5h1M439 140.5h1M357 171.5h1M351 180.5h1M358 180.5h1M357 176.5h1M348 173.5h1M347 180.5h1M351 174.5h1M377 209.5h1M385 214.5h1M390 214.5h1M366 209.5h1M388 213.5h1M369 210.5h1M358 214.5h1M373 214.5h1M367 210.5h1M376 213.5h1M394 210.5h1M385 211.5h1M361 194.5h1M368 205.5h1M375 186.5h1M379 191.5h1M375 190.5h1M377 184.5h1M358 195.5h1M359 200.5h1M395 191.5h1M377 192.5h1M364 188.5h1M376 190.5h1M381 189.5h1M373 188.5h1M352 197.5h1M380 195.5h1M361 200.5h1M367 208.5h1M365 203.5h1M351 200.5h1M356 206.5h1M367 188.5h1M352 195.5h1M398 184.5h1M369 187.5h1M376 188.5h1M362 203.5h1M377 185.5h1M389 186.5h1M378 191.5h1M386 191.5h1M368 197.5h1M367 194.5h1M360 194.5h1M366 201.5h1M391 183.5h1M374 189.5h1M380 193.5h1M381 193.5h1M395 183.5h1M380 188.5h1M372 193.5h1M371 194.5h1M362 195.5h1M365 188.5h1M448 64.5h1M353 138.5h1M470 142.5h1M352 186.5h1" stroke="#111" stroke-width="1" fill="none"/>
<text transform="translate(456.82,65.03) scale(1.471,1.208)" font-size="20px" font-weight="bold" style="stroke:none">-</text><text transform="translate(464.92,65.92) scale(1.385,0.960)" font-size="20px" font-weight="bold" style="stroke:none">/</text><text transform="translate(472.82,65.03) scale(1.471,1.208)" font-size="20px" font-weight="bold" style="stroke:none">-</text>
<g font-size="15.3px" fill="#222"><text x="149.3" y="107.5" textLength="68.5" lengthAdjust="spacingAndGlyphs">nucleated</text><text x="85.5" y="135" textLength="26.5" lengthAdjust="spacingAndGlyphs">free</text><text x="78" y="152.5" textLength="39.5" lengthAdjust="spacingAndGlyphs">nuclei</text><text x="177.6" y="202.3" textLength="77" lengthAdjust="spacingAndGlyphs">enucleated</text></g>
<text x="216.6" y="258.2" font-size="16.8px" textLength="114" lengthAdjust="spacingAndGlyphs">Forward Scatter</text>
<text transform="translate(36.4,214.2) rotate(-90)" font-size="18.8px" textLength="136" lengthAdjust="spacingAndGlyphs">DRAQ5 (DNA)</text>
<path d="M29.2 217.5V253H206 M29.1 72.5V44 M344.5 253H506" stroke="#333" stroke-width="1.4" fill="none"/>
<path d="M29.1 39.8L25.2 47.4L29.1 45.4L33 47.4z M512 253L503 249.2L505.4 253L503 256.9z" fill="#1a1a1a"/>
<path d="M49.400000000000006 339.9H253.2V553.3H49.400000000000006 M52.7 339.9V553.3 M99.9 339.9V553.3 M151.4 339.9V553.3 M201.4 339.9V553.3 M49.400000000000006 553.30H52.7 M49.400000000000006 517.73H52.7 M49.400000000000006 482.16H52.7 M49.400000000000006 446.59H52.7 M49.400000000000006 411.02H52.7 M49.400000000000006 375.45H52.7 M49.400000000000006 339.88H52.7" stroke="#7a7a7a" stroke-width="1.2" fill="none"/>
<g font-size="17px" text-anchor="end">
<text x="46.2" y="559.7">0</text>
<text x="46.2" y="524.1">10</text>
<text x="46.2" y="488.6">20</text>
<text x="46.2" y="453.0">30</text>
<text x="46.2" y="417.4">40</text>
<text x="46.2" y="381.8">50</text>
<text x="46.2" y="346.3">60</text>
</g>
<g font-size="16px" text-anchor="middle">
<text x="72.5" y="335.7">1</text>
<text x="123.3" y="335.7">2</text>
<text x="174" y="335.7">3</text>
<text x="227.3" y="335.7">4</text>
</g>
<text x="103.5" y="313" font-size="19.8px" textLength="90.5" lengthAdjust="spacingAndGlyphs">Coculture</text>
<rect x="56.2" y="360.15" width="17.20" height="193.15" fill="#3b3b3b" stroke="#555" stroke-width="0.8"/>
<path d="M64.8 354.3V360.15M62.3 354.3h5" stroke="#555" stroke-width="1.2" fill="none"/>
<path d="M64.8 360.15V365.5M62.3 365.5h5" stroke="#2b2b2b" stroke-width="1.2" fill="none"/>
<rect x="73.4" y="353.93" width="17.30" height="199.37" fill="#3b3b3b" stroke="#555" stroke-width="0.8"/>
<path d="M82.1 351.3V353.93M79.6 351.3h5" stroke="#555" stroke-width="1.2" fill="none"/>
<path d="M82.1 353.93V356.3M79.6 356.3h5" stroke="#2b2b2b" stroke-width="1.2" fill="none"/>
<rect x="107.1" y="352.33" width="17.40" height="200.97" fill="#3b3b3b" stroke="#555" stroke-width="0.8"/>
<path d="M115.8 341.4V352.33M113.3 341.4h5" stroke="#555" stroke-width="1.2" fill="none"/>
<path d="M115.8 352.33V362.7M113.3 362.7h5" stroke="#2b2b2b" stroke-width="1.2" fill="none"/>
<rect x="124.5" y="415.64" width="17.10" height="137.66" fill="#f1f1f1" stroke="#777" stroke-width="0.8"/>
<path d="M133.1 401.2V415.64M130.6 401.2h5" stroke="#555" stroke-width="1.2" fill="none"/>
<path d="M133.1 415.64V429.7M130.6 429.7h5" stroke="#555" stroke-width="1.2" fill="none"/>
<rect x="158.5" y="437.70" width="16.90" height="115.60" fill="#f1f1f1" stroke="#777" stroke-width="0.8"/>
<path d="M166.9 418.9V437.70M164.4 418.9h5" stroke="#555" stroke-width="1.2" fill="none"/>
<path d="M166.9 437.70V455.8M164.4 455.8h5" stroke="#555" stroke-width="1.2" fill="none"/>
<rect x="175.4" y="365.49" width="17.20" height="187.81" fill="#3b3b3b" stroke="#555" stroke-width="0.8"/>
<path d="M184.0 351.2V365.49M181.5 351.2h5" stroke="#555" stroke-width="1.2" fill="none"/>
<path d="M184.0 365.49V379M181.5 379h5" stroke="#2b2b2b" stroke-width="1.2" fill="none"/>
<rect x="209.3" y="430.58" width="17.30" height="122.72" fill="#f1f1f1" stroke="#777" stroke-width="0.8"/>
<path d="M217.9 425.4V430.58M215.4 425.4h5" stroke="#555" stroke-width="1.2" fill="none"/>
<path d="M217.9 430.58V433.9M215.4 433.9h5" stroke="#555" stroke-width="1.2" fill="none"/>
<rect x="226.6" y="430.58" width="17.30" height="122.72" fill="#f1f1f1" stroke="#777" stroke-width="0.8"/>
<path d="M235.2 427.7V430.58M232.8 427.7h5" stroke="#555" stroke-width="1.2" fill="none"/>
<path d="M235.2 430.58V432.6M232.8 432.6h5" stroke="#555" stroke-width="1.2" fill="none"/>
<g font-size="16px" font-weight="bold" text-anchor="middle" style="stroke-width:.1px">
<text x="65.5" y="573.2">+</text>
<text x="82.6" y="573.2">-</text>
<text x="116.4" y="573.2">+</text>
<text x="134.5" y="573.2">-</text>
<text x="166.5" y="573.2">+</text>
<text x="183.4" y="573.2">-</text>
<text x="217.4" y="573.2">+</text>
<text x="234.5" y="573.2">-</text>
</g>
<rect x="208.8" y="349" width="8" height="7.3" fill="#333"/>
<rect x="209.3" y="363.5" width="7.3" height="7" fill="#fff" stroke="#888" stroke-width="1"/>
<text x="220.60000000000002" y="358" font-size="18.5px" letter-spacing=".4" style="stroke:#fff;stroke-width:.18px">+/+</text>
<text x="225.60000000000002" y="372.6" font-size="18.5px" letter-spacing=".4" style="stroke:#fff;stroke-width:.18px">-/-</text>
<text transform="translate(17,506.4) rotate(-90)" font-size="20px" textLength="121.5" lengthAdjust="spacingAndGlyphs">% cells in G1</text>
<path d="M320.2 337.9H518.5V553.3H320.2 M323.5 337.9V553.3 M369.6 337.9V553.3 M421.2 337.9V553.3 M470.6 337.9V553.3 M320.2 553.30H323.5 M320.2 510.20H323.5 M320.2 467.10H323.5 M320.2 424.00H323.5 M320.2 380.90H323.5 M320.2 337.80H323.5" stroke="#7a7a7a" stroke-width="1.2" fill="none"/>
<g font-size="17px" text-anchor="end">
<text x="317.0" y="559.7">0</text>
<text x="317.0" y="516.6">5</text>
<text x="317.0" y="473.5">10</text>
<text x="317.0" y="430.4">15</text>
<text x="317.0" y="387.3">20</text>
<text x="317.0" y="344.2">25</text>
</g>
<g font-size="16px" text-anchor="middle">
<text x="345.8" y="333.9">1</text>
<text x="396" y="333.9">2</text>
<text x="446" y="333.9">3</text>
<text x="499" y="333.9">4</text>
</g>
<text x="374" y="312.1" font-size="19.8px" textLength="90.5" lengthAdjust="spacingAndGlyphs">Coculture</text>
<rect x="327.8" y="392.54" width="16.90" height="160.76" fill="#3b3b3b" stroke="#555" stroke-width="0.8"/>
<path d="M336.2 377V392.54M333.8 377h5" stroke="#555" stroke-width="1.2" fill="none"/>
<path d="M336.2 392.54V407.5M333.8 407.5h5" stroke="#2b2b2b" stroke-width="1.2" fill="none"/>
<rect x="344.7" y="395.55" width="16.90" height="157.75" fill="#3b3b3b" stroke="#555" stroke-width="0.8"/>
<path d="M353.1 379.5V395.55M350.6 379.5h5" stroke="#555" stroke-width="1.2" fill="none"/>
<path d="M353.1 395.55V412M350.6 412h5" stroke="#2b2b2b" stroke-width="1.2" fill="none"/>
<rect x="378.5" y="378.75" width="16.80" height="174.55" fill="#3b3b3b" stroke="#555" stroke-width="0.8"/>
<path d="M386.9 368V378.75M384.4 368h5" stroke="#555" stroke-width="1.2" fill="none"/>
<path d="M386.9 378.75V389M384.4 389h5" stroke="#2b2b2b" stroke-width="1.2" fill="none"/>
<rect x="395.3" y="540.71" width="17.40" height="12.59" fill="#f1f1f1" stroke="#777" stroke-width="0.8"/>
<path d="M404.0 538.3V540.71M401.5 538.3h5" stroke="#555" stroke-width="1.2" fill="none"/>
<path d="M404.0 540.71V543.9M401.5 543.9h5" stroke="#555" stroke-width="1.2" fill="none"/>
<rect x="428.5" y="543.30" width="17.50" height="10.00" fill="#f1f1f1" stroke="#777" stroke-width="0.8"/>
<rect x="446" y="428.31" width="17.00" height="124.99" fill="#3b3b3b" stroke="#555" stroke-width="0.8"/>
<path d="M454.5 383.3V428.31M452.0 383.3h5" stroke="#555" stroke-width="1.2" fill="none"/>
<path d="M454.5 428.31V474.6M452.0 474.6h5" stroke="#2b2b2b" stroke-width="1.2" fill="none"/>
<rect x="479.4" y="537.78" width="17.00" height="15.52" fill="#f1f1f1" stroke="#777" stroke-width="0.8"/>
<path d="M487.9 526.5V537.78M485.4 526.5h5" stroke="#555" stroke-width="1.2" fill="none"/>
<path d="M487.9 537.78V548.4M485.4 548.4h5" stroke="#555" stroke-width="1.2" fill="none"/>
<rect x="496.4" y="536.75" width="17.00" height="16.55" fill="#f1f1f1" stroke="#777" stroke-width="0.8"/>
<path d="M504.9 526.5V536.75M502.4 526.5h5" stroke="#555" stroke-width="1.2" fill="none"/>
<path d="M504.9 536.75V548.4M502.4 548.4h5" stroke="#555" stroke-width="1.2" fill="none"/>
<g font-size="16px" font-weight="bold" text-anchor="middle" style="stroke-width:.1px">
<text x="333.5" y="573.2">+</text>
<text x="352.4" y="573.2">-</text>
<text x="384" y="573.2">+</text>
<text x="403.9" y="573.2">-</text>
<text x="438.6" y="573.2">+</text>
<text x="456" y="573.2">-</text>
<text x="489" y="573.2">+</text>
<text x="503.9" y="573.2">-</text>
</g>
<rect x="476" y="349" width="8" height="7.3" fill="#333"/>
<rect x="476.5" y="363.5" width="7.3" height="7" fill="#fff" stroke="#888" stroke-width="1"/>
<text x="487.8" y="358" font-size="18.5px" letter-spacing=".4" style="stroke:#fff;stroke-width:.18px">+/+</text>
<text x="492.8" y="372.6" font-size="18.5px" letter-spacing=".4" style="stroke:#fff;stroke-width:.18px">-/-</text>
<text transform="translate(292.4,521.3) rotate(-90)" font-size="19px" textLength="160.5" lengthAdjust="spacingAndGlyphs">% enucleated cells</text>
<text x="260.7" y="573.4" font-size="16px" textLength="43" lengthAdjust="spacingAndGlyphs">CFSE</text>
</svg>
</body></html>
